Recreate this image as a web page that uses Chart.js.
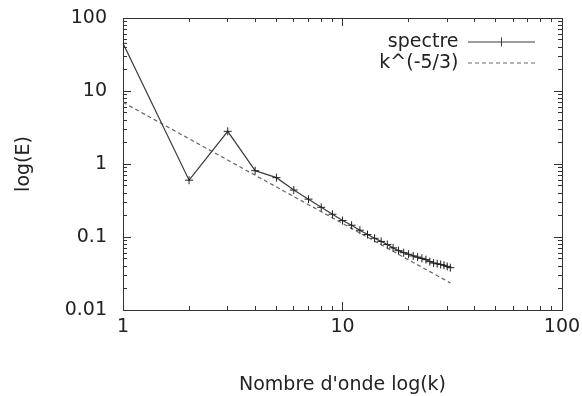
<!DOCTYPE html>
<html>
<head>
<meta charset="utf-8">
<script src="https://cdn.jsdelivr.net/npm/chart.js@4/dist/chart.umd.min.js"></script>
<style>
  html, body { margin: 0; padding: 0; background: #fff; }
  #c { display: block; }
</style>
</head>
<body>
<canvas id="c" width="582" height="396"></canvas>
<script>
// ---- data ----
const K = [1, 2, 3, 4, 5, 6, 7, 8, 9, 10, 11, 12, 13, 14, 15, 16, 17, 18, 19, 20,
           21, 22, 23, 24, 25, 26, 27, 28, 29, 30, 31];
const SPECTRE = [45, 0.6, 2.8, 0.81, 0.65, 0.44, 0.33, 0.255, 0.205, 0.168, 0.145, 0.124,
                 0.108, 0.096, 0.087, 0.079, 0.071, 0.065, 0.061, 0.058, 0.055, 0.053, 0.051,
                 0.049, 0.046, 0.044, 0.043, 0.042, 0.041, 0.0395, 0.038];
const REF_K = [1, 31];
const REF_E = [7.0, 0.0235];
const X_MAJOR = [1, 10, 100];
const Y_MAJOR = [0.01, 0.1, 1, 10, 100];
const SERIES_NAMES = ['spectre', 'k^(-5/3)'];
const X_TITLE = "Nombre d'onde log(k)";
const Y_TITLE = 'log(E)';

// ---- styling ----
const AXIS = '#333';
const TEXT = '#222';
const LINE1 = '#3c3c3c';
const LINE2 = '#666';
const FONT = 'DejaVu Sans';
const FS = 19;

Chart.defaults.font.family = FONT;
Chart.defaults.font.size = FS;
Chart.defaults.color = TEXT;

function decadeTicks(majors, minor) {
  const out = [];
  majors.forEach((m, i) => {
    out.push({ value: m });
    if (minor && i < majors.length - 1) {
      for (let s = 2; s <= 9; s++) out.push({ value: +(m * s).toPrecision(8) });
    }
  });
  return out;
}

function logScale(axis, position, majors, min, max, o) {
  return {
    type: 'logarithmic', axis, position, min, max, weight: o.weight || 0,
    afterBuildTicks: s => { s.ticks = decadeTicks(majors, o.minor); },
    afterFit: s => {
      const size = o.size || 0;
      if (s.isHorizontal()) s.height = size; else s.width = size;
      s.paddingTop = 0; s.paddingBottom = 0; s.paddingLeft = 0; s.paddingRight = 0;
    },
    border: { display: true, color: AXIS, width: 1 },
    grid: { drawOnChartArea: false, drawTicks: true, tickLength: -o.len, color: AXIS, tickColor: AXIS, lineWidth: 1 },
    ticks: {
      display: !!o.labels, autoSkip: false, maxRotation: 0, minRotation: 0,
      padding: o.pad || 0, color: TEXT, font: { family: FONT, size: FS },
      callback: v => (majors.includes(v) ? String(v) : '')
    },
    title: o.title ? { display: true, text: o.title, color: TEXT, font: { family: FONT, size: FS }, padding: o.titlePad } : { display: false }
  };
}

function legendSample(color, dashed, cross) {
  const c = document.createElement('canvas');
  c.width = 67; c.height = 11;
  const g = c.getContext('2d');
  g.strokeStyle = color; g.lineWidth = 1;
  if (dashed) g.setLineDash([4, 3]);
  g.beginPath(); g.moveTo(0, 5.5); g.lineTo(67, 5.5); g.stroke();
  if (cross) {
    g.setLineDash([]);
    g.beginPath(); g.moveTo(33.5, 1); g.lineTo(33.5, 10); g.moveTo(29, 5.5); g.lineTo(38, 5.5); g.stroke();
  }
  return c;
}

const LEG_RIGHT = 27, LEG_TOP = 14.5;
const legendPlace = {
  id: 'legendPlace',
  afterLayout(chart) {
    const L = chart.legend, a = chart.chartArea, pad = L.options.labels.padding;
    const w = L.width, h = L.height;
    L.left = a.right - LEG_RIGHT + pad - w; L.right = L.left + w;
    L.top = a.top + LEG_TOP - pad; L.bottom = L.top + h;
  }
};

const samples = [legendSample(LINE1, false, true), legendSample(LINE2, true, false)];

new Chart(document.getElementById('c'), {
  type: 'scatter',
  data: {
    datasets: [
      {
        label: SERIES_NAMES[0],
        data: K.map((k, i) => ({ x: k, y: SPECTRE[i] })),
        showLine: true, borderColor: LINE1, borderWidth: 1.2, tension: 0,
        pointStyle: 'cross', pointRadius: 4, pointBorderColor: '#222', pointBorderWidth: 1,
        xAxisID: 'x', yAxisID: 'y'
      },
      {
        label: SERIES_NAMES[1],
        data: REF_K.map((k, i) => ({ x: k, y: REF_E[i] })),
        showLine: true, borderColor: LINE2, borderWidth: 1.2, borderDash: [4, 3],
        pointRadius: 0, xAxisID: 'x', yAxisID: 'y'
      }
    ]
  },
  options: {
    responsive: false, animation: false, devicePixelRatio: 1,
    layout: { padding: { left: 0, top: 18, right: 20, bottom: 0 }, autoPadding: false },
    scales: {
      x:   logScale('x', 'bottom', X_MAJOR, 1, 100, { labels: true, minor: true, len: 4, weight: 1, size: 86, pad: 10, title: X_TITLE, titlePad: { top: 0, bottom: 0 } }),
      xM:  logScale('x', 'bottom', X_MAJOR, 1, 100, { minor: false, len: 8 }),
      xt:  logScale('x', 'top', X_MAJOR, 1, 100, { minor: true, len: 4 }),
      xtM: logScale('x', 'top', X_MAJOR, 1, 100, { minor: false, len: 8 }),
      y:   logScale('y', 'left', Y_MAJOR, 0.01, 100, { labels: true, minor: true, len: 4, weight: 1, size: 123, pad: 20, title: Y_TITLE, titlePad: { top: 12.6, bottom: 0 } }),
      yM:  logScale('y', 'left', Y_MAJOR, 0.01, 100, { minor: false, len: 8 }),
      yr:  logScale('y', 'right', Y_MAJOR, 0.01, 100, { minor: true, len: 4 }),
      yrM: logScale('y', 'right', Y_MAJOR, 0.01, 100, { minor: false, len: 8 })
    },
    plugins: {
      tooltip: { enabled: false },
      legend: {
        position: 'chartArea', align: 'start', rtl: true,
        labels: {
          usePointStyle: true, pointStyleWidth: 67, padding: 2,
          color: TEXT, font: { family: FONT, size: FS },
          generateLabels: chart => chart.data.datasets.map((d, i) => ({
            text: d.label, pointStyle: samples[i], fillStyle: d.borderColor,
            strokeStyle: d.borderColor, lineWidth: 1, hidden: false,
            datasetIndex: i, fontColor: TEXT
          }))
        }
      }
    }
  },
  plugins: [legendPlace]
});
</script>
</body>
</html>
